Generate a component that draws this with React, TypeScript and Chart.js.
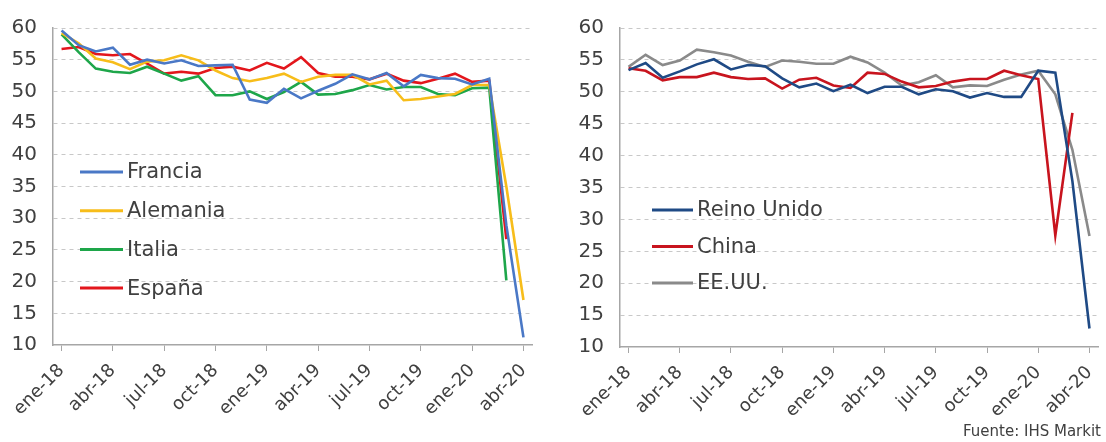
import React, { useEffect, useRef } from 'react';
import { Chart, registerables } from 'chart.js';

Chart.register(...registerables);

// ---- Data (monthly PMI compuesto, ene-18 .. abr-20) ----
const months = [
  'ene-18', 'feb-18', 'mar-18', 'abr-18', 'may-18', 'jun-18', 'jul-18', 'ago-18', 'sep-18', 'oct-18', 'nov-18', 'dic-18',
  'ene-19', 'feb-19', 'mar-19', 'abr-19', 'may-19', 'jun-19', 'jul-19', 'ago-19', 'sep-19', 'oct-19', 'nov-19', 'dic-19',
  'ene-20', 'feb-20', 'mar-20', 'abr-20',
];
const tickLabels = ['ene-18', 'abr-18', 'jul-18', 'oct-18', 'ene-19', 'abr-19', 'jul-19', 'oct-19', 'ene-20', 'abr-20'];
const yTicks = [10, 15, 20, 25, 30, 35, 40, 45, 50, 55, 60];

const francia = [59.6, 57.3, 56.3, 56.9, 54.2, 55.0, 54.4, 54.9, 54.0, 54.1, 54.2, 48.7, 48.2, 50.4, 48.9, 50.1, 51.2, 52.7, 51.9, 52.9, 50.8, 52.6, 52.1, 52.0, 51.1, 52.0, 28.9, 11.2];
const alemania = [59.2, 57.6, 55.2, 54.6, 53.5, 54.7, 54.9, 55.7, 54.9, 53.3, 52.1, 51.6, 52.1, 52.8, 51.5, 52.3, 52.6, 52.6, 51.1, 51.7, 48.6, 48.8, 49.2, 49.6, 51.0, 51.0, 35.0, 17.1];
const italia = [59.0, 56.2, 53.6, 53.1, 52.9, 53.9, 52.8, 51.7, 52.4, 49.4, 49.4, 50.0, 48.8, 49.9, 51.5, 49.5, 49.6, 50.2, 51.0, 50.3, 50.7, 50.7, 49.6, 49.4, 50.5, 50.6, 20.2, null];
const espana = [56.7, 57.0, 55.9, 55.7, 55.9, 54.4, 52.8, 53.1, 52.8, 53.7, 53.9, 53.3, 54.5, 53.6, 55.4, 52.9, 52.3, 52.3, 51.9, 52.8, 51.7, 51.3, 52.0, 52.8, 51.5, 51.7, 26.7, null];

const reinoUnido = [53.4, 54.5, 52.2, 53.2, 54.3, 55.1, 53.5, 54.2, 54.0, 52.1, 50.7, 51.3, 50.1, 51.1, 49.8, 50.8, 50.8, 49.6, 50.4, 50.1, 49.1, 49.8, 49.2, 49.2, 53.3, 53.0, 36.0, 12.9];
const china = [53.7, 53.3, 51.8, 52.3, 52.3, 53.0, 52.3, 52.0, 52.1, 50.5, 51.9, 52.2, 51.0, 50.6, 53.0, 52.8, 51.6, 50.7, 50.9, 51.6, 52.0, 52.0, 53.3, 52.6, 52.0, 27.5, 46.7, null];
const eeuu = [53.9, 55.8, 54.2, 54.9, 56.6, 56.2, 55.7, 54.7, 53.9, 54.9, 54.7, 54.4, 54.4, 55.5, 54.6, 53.0, 51.0, 51.5, 52.6, 50.7, 51.0, 50.9, 51.9, 52.7, 53.3, 49.6, 40.9, 27.4];

const FONT = "'DejaVu Sans', 'Noto Sans', sans-serif";
const TEXT = '#404040';
const AXIS = '#a6a6a6';
const GRID = '#c8c8c8';

type Series = { label: string; values: (number | null)[]; color: string };

const leftSeries: Series[] = [
  { label: 'Francia', values: francia, color: '#4a78c6' },
  { label: 'Alemania', values: alemania, color: '#f7bd1a' },
  { label: 'Italia', values: italia, color: '#1ea64a' },
  { label: 'España', values: espana, color: '#e3161c' },
];
const rightSeries: Series[] = [
  { label: 'Reino Unido', values: reinoUnido, color: '#1f4a85' },
  { label: 'China', values: china, color: '#c8141e' },
  { label: 'EE.UU.', values: eeuu, color: '#8a8a8a' },
];

const insideLegend = {
  id: 'insideLegend',
  afterDatasetsDraw(chart: any, _args: any, opts: any) {
    const { ctx } = chart;
    ctx.save();
    chart.data.datasets.forEach((ds: any, i: number) => {
      const yy = opts.y + i * opts.gap;
      ctx.strokeStyle = ds.borderColor;
      ctx.lineWidth = 3;
      ctx.beginPath();
      ctx.moveTo(opts.x, yy);
      ctx.lineTo(opts.x + opts.lineLen, yy);
      ctx.stroke();
      ctx.fillStyle = TEXT;
      ctx.font = `21px ${FONT}`;
      ctx.textBaseline = 'middle';
      ctx.textAlign = 'left';
      ctx.fillText(ds.label, opts.x + opts.lineLen + 4, yy + 1);
    });
    ctx.restore();
  },
};

type PanelProps = {
  series: Series[];
  left: number;
  width: number;
  yAxisWidth: number;
  padTop: number;
  padRight: number;
  xAxisHeight: number;
  legend: { x: number; y: number; gap: number; lineLen: number };
};

function Panel({ series, left, width, yAxisWidth, padTop, padRight, xAxisHeight, legend }: PanelProps) {
  const ref = useRef<HTMLCanvasElement | null>(null);
  useEffect(() => {
    if (!ref.current) return;
    const chart = new Chart(ref.current, {
      type: 'line',
      data: {
        labels: months,
        datasets: series.map((s) => ({
          label: s.label,
          data: s.values.map((v, i) => ({ x: i, y: v })),
          borderColor: s.color,
          backgroundColor: s.color,
          borderWidth: 2.6,
          pointRadius: 0,
          tension: 0,
          fill: false,
        })),
      },
      plugins: [insideLegend],
      options: {
        animation: false,
        responsive: true,
        maintainAspectRatio: false,
        layout: { padding: { top: padTop, right: padRight, left: 0, bottom: 0 } },
        plugins: {
          legend: { display: false },
          tooltip: { enabled: false },
          insideLegend: legend,
        } as any,
        scales: {
          x: {
            type: 'linear',
            min: -0.5,
            max: months.length - 0.5,
            afterBuildTicks: (scale: any) => {
              scale.ticks = tickLabels.map((_, k) => ({ value: k * 3 }));
            },
            afterFit: (scale: any) => {
              scale.height = xAxisHeight;
            },
            grid: { display: true, drawOnChartArea: false, drawTicks: true, tickLength: 6, color: AXIS, lineWidth: 1 },
            border: { display: true, color: AXIS, width: 1.5 },
            ticks: {
              autoSkip: false,
              minRotation: 45,
              maxRotation: 45,
              padding: 9,
              color: TEXT,
              font: { family: FONT, size: 18 },
              callback: (value: any) => tickLabels[Math.round(Number(value) / 3)] ?? '',
            },
          },
          y: {
            type: 'linear',
            min: yTicks[0],
            max: yTicks[yTicks.length - 1],
            afterBuildTicks: (scale: any) => {
              scale.ticks = yTicks.map((v) => ({ value: v }));
            },
            afterFit: (scale: any) => {
              scale.width = yAxisWidth;
            },
            grid: {
              drawTicks: false,
              color: (c: any) => (c.tick && c.tick.value === yTicks[0] ? 'rgba(0,0,0,0)' : GRID),
              lineWidth: 1,
            },
            border: { display: true, color: AXIS, width: 1.5, dash: [4, 4] },
            ticks: {
              padding: 16,
              color: TEXT,
              font: { family: FONT, size: 20 },
            },
          },
        },
      } as any,
    });
    return () => chart.destroy();
  }, []);
  return (
    <div style={{ position: 'absolute', left, top: 0, width, height: 442 }}>
      <canvas ref={ref} />
    </div>
  );
}

export default function App() {
  return (
    <div style={{ position: 'absolute', left: 0, top: 0, width: 1106, height: 442, background: '#fff', overflow: 'hidden' }}>
      <Panel
        series={leftSeries}
        left={0}
        width={560}
        yAxisWidth={53}
        padTop={26}
        padRight={28}
        xAxisHeight={97}
        legend={{ x: 80, y: 172, gap: 38.7, lineLen: 43 }}
      />
      <Panel
        series={rightSeries}
        left={540}
        width={590}
        yAxisWidth={80}
        padTop={28}
        padRight={32}
        xAxisHeight={95}
        legend={{ x: 112, y: 210, gap: 36.5, lineLen: 41 }}
      />
      <div
        style={{
          position: 'absolute',
          right: 5,
          top: 422,
          fontFamily: FONT,
          fontSize: 15,
          color: TEXT,
          whiteSpace: 'nowrap',
        }}
      >
        Fuente: IHS Markit
      </div>
    </div>
  );
}
